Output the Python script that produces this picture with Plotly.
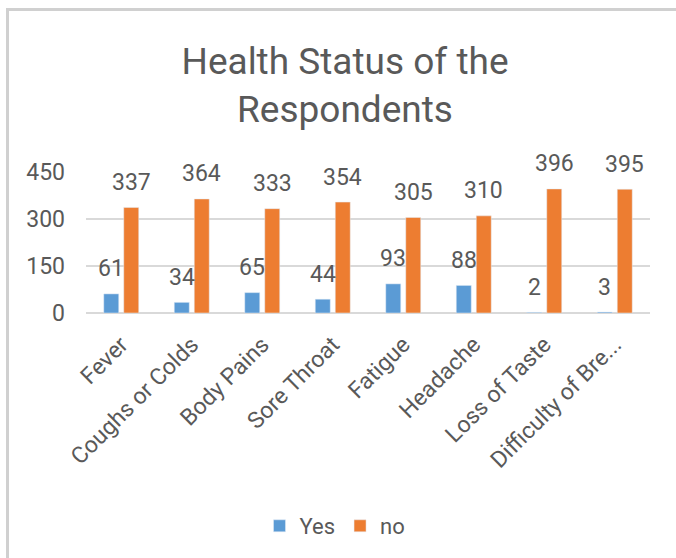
import plotly.graph_objects as go

categories = ["Fever", "Coughs or Colds", "Body Pains", "Sore Throat", "Fatigue",
              "Headache", "Loss of Taste", "Difficulty of Breathing"]
tick_labels = ["Fever", "Coughs or Colds", "Body Pains", "Sore Throat", "Fatigue",
               "Headache", "Loss of Taste", "Difficulty of Bre..."]
yes_values = [61, 34, 65, 44, 93, 88, 2, 3]
no_values = [337, 364, 333, 354, 305, 310, 396, 395]

W, H = 676, 558
ML, MR, MT, MB = 86, 26, 172, 245
PW, PH = W - ML - MR, H - MT - MB

def px_x(px):
    return (px - ML) / PW

def px_y(py):
    return (H - MB - py) / PH

GRAY = "#595959"
FONT = "Roboto"

fig = go.Figure()
fig.add_trace(go.Bar(name="Yes", x=categories, y=yes_values, marker_color="#5B9BD5"))
fig.add_trace(go.Bar(name="no", x=categories, y=no_values, marker_color="#ED7D31"))

annotations = []
for cat, yv, nv in zip(categories, yes_values, no_values):
    annotations.append(dict(x=cat, y=yv, text=str(yv), showarrow=False, xshift=-10, yshift=25,
                            yanchor="middle", font=dict(family=FONT, size=23, color=GRAY)))
    annotations.append(dict(x=cat, y=nv, text=str(nv), showarrow=False, xshift=10, yshift=25,
                            yanchor="middle", font=dict(family=FONT, size=23, color=GRAY)))

fig.update_layout(
    width=W, height=H,
    margin=dict(l=ML, r=MR, t=MT, b=MB),
    paper_bgcolor="white", plot_bgcolor="white",
    barmode="group", bargap=0.433, bargroupgap=0.25,
    font=dict(family=FONT, color=GRAY),
    title=dict(text="Health Status of the<br>Respondents", x=345 / W, xanchor="center",
               xref="container", y=1 - 74 / H, yanchor="top", yref="container",
               font=dict(family=FONT, size=37, color=GRAY)),
    legend=dict(orientation="h", xref="container", yref="container", x=335 / W, xanchor="center",
                y=1 - 526 / H, yanchor="middle", font=dict(family=FONT, size=22, color=GRAY),
                itemwidth=30, traceorder="normal"),
    yaxis=dict(range=[0, 450], tickvals=[0, 150, 300, 450], showgrid=True, gridcolor="#d9d9d9",
               gridwidth=1.5, zeroline=True, zerolinecolor="#d9d9d9", zerolinewidth=1.5,
               showline=False, ticks="", ticklabelstandoff=20,
               tickfont=dict(family=FONT, size=23, color=GRAY)),
    xaxis=dict(tickvals=categories, ticktext=tick_labels, tickangle=-45, showline=False,
               ticks="outside", ticklen=8, tickcolor="rgba(0,0,0,0)",
               tickfont=dict(family=FONT, size=23, color=GRAY)),
    annotations=annotations,
    shapes=[
        dict(type="line", xref="paper", yref="paper", x0=px_x(7.5), x1=px_x(7.5),
             y0=px_y(8), y1=px_y(H), line=dict(color="#d0d0d0", width=3)),
        dict(type="line", xref="paper", yref="paper", x0=px_x(6), x1=px_x(W),
             y0=px_y(9.5), y1=px_y(9.5), line=dict(color="#d0d0d0", width=3)),
    ],
)

fig.write_html("out.html")
